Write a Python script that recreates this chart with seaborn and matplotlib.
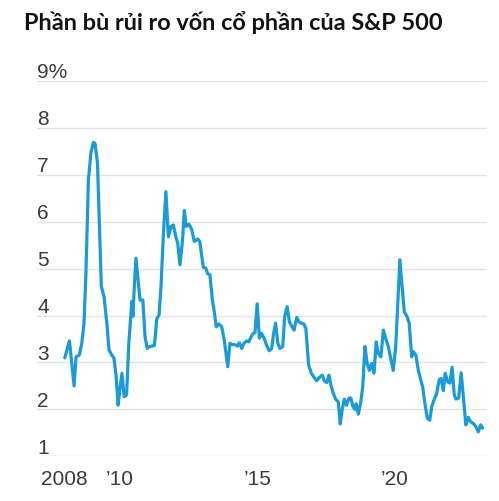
import matplotlib
matplotlib.use("Agg")
import matplotlib.pyplot as plt
import matplotlib.transforms as mtransforms
from matplotlib import font_manager
import seaborn as sns

title = "Phần bù rủi ro vốn cổ phần của S&P 500"

years = [
    2008.00, 2008.17, 2008.34, 2008.41, 2008.53, 2008.62, 2008.70, 2008.77, 2008.86, 2008.95,
    2009.04, 2009.10, 2009.19, 2009.26, 2009.33, 2009.43, 2009.53, 2009.61, 2009.71, 2009.79,
    2009.87, 2009.94, 2010.01, 2010.08, 2010.16, 2010.25, 2010.33, 2010.40, 2010.44, 2010.48,
    2010.53, 2010.59, 2010.68, 2010.74, 2010.84, 2010.92, 2011.00, 2011.08, 2011.26, 2011.35,
    2011.43, 2011.50, 2011.59, 2011.68, 2011.77, 2011.87, 2011.95, 2012.04, 2012.11, 2012.19,
    2012.28, 2012.35, 2012.42, 2012.52, 2012.62, 2012.71, 2012.84, 2012.91, 2012.98, 2013.04,
    2013.13, 2013.20, 2013.28, 2013.37, 2013.44, 2013.51, 2013.61, 2013.71, 2013.80, 2013.93,
    2014.01, 2014.09, 2014.19, 2014.28, 2014.35, 2014.44, 2014.52, 2014.62, 2014.69, 2014.76,
    2014.84, 2014.92, 2015.00, 2015.08, 2015.16, 2015.25, 2015.35, 2015.44, 2015.53, 2015.59,
    2015.67, 2015.75, 2015.83, 2015.93, 2016.00, 2016.09, 2016.17, 2016.27, 2016.34, 2016.44,
    2016.51, 2016.60, 2016.70, 2016.77, 2016.82, 2016.87, 2016.97, 2017.07, 2017.16, 2017.26,
    2017.37, 2017.44, 2017.53, 2017.61, 2017.68, 2017.77, 2017.85, 2017.95, 2018.02, 2018.09,
    2018.17, 2018.25, 2018.34, 2018.41, 2018.48, 2018.56, 2018.60, 2018.68, 2018.76, 2018.84,
    2018.92, 2019.00, 2019.08, 2019.16, 2019.25, 2019.33, 2019.40, 2019.50, 2019.59, 2019.67,
    2019.77, 2019.87, 2019.95, 2020.04, 2020.11, 2020.19, 2020.28, 2020.35, 2020.45, 2020.53,
    2020.62, 2020.68, 2020.77, 2020.86, 2020.95, 2021.02, 2021.10, 2021.19, 2021.28, 2021.35,
    2021.43, 2021.53, 2021.62, 2021.69, 2021.77, 2021.84, 2021.93, 2022.01, 2022.09, 2022.17,
    2022.23, 2022.33, 2022.42, 2022.49, 2022.59, 2022.68, 2022.76, 2022.86, 2022.96, 2023.04,
    2023.13, 2023.20,
]
premium = [
    3.10, 3.46, 2.50, 3.12, 3.16, 3.41, 3.84, 4.90, 6.89, 7.46,
    7.69, 7.67, 7.25, 5.97, 4.62, 4.40, 3.84, 3.27, 3.16, 3.09,
    2.70, 2.09, 2.45, 2.77, 2.27, 2.31, 3.41, 3.98, 4.30, 3.98,
    4.62, 5.22, 4.69, 4.33, 4.33, 3.55, 3.30, 3.34, 3.36, 3.94,
    4.01, 4.62, 5.75, 6.64, 5.68, 5.90, 5.93, 5.68, 5.54, 5.08,
    5.58, 6.24, 5.90, 5.95, 5.83, 5.58, 5.63, 5.58, 5.29, 5.03,
    5.01, 4.89, 4.87, 4.33, 4.08, 3.76, 3.82, 3.76, 3.48, 2.91,
    3.41, 3.38, 3.38, 3.35, 3.42, 3.30, 3.41, 3.46, 3.44, 3.52,
    3.61, 3.64, 4.25, 3.52, 3.62, 3.52, 3.35, 3.25, 3.30, 3.59,
    3.84, 3.41, 3.30, 3.34, 3.98, 4.19, 3.87, 3.76, 3.69, 3.96,
    3.87, 3.84, 3.82, 3.73, 3.34, 2.95, 2.77, 2.68, 2.61, 2.68,
    2.73, 2.61, 2.57, 2.73, 2.52, 2.34, 2.22, 2.16, 1.69, 1.99,
    2.22, 2.09, 2.24, 2.24, 2.06, 2.00, 2.12, 1.90, 2.13, 2.48,
    3.34, 2.98, 2.83, 2.98, 2.77, 3.44, 3.20, 3.12, 3.69, 3.52,
    3.34, 3.05, 2.83, 3.34, 4.19, 5.19, 4.55, 4.08, 3.98, 3.84,
    3.12, 3.23, 3.16, 2.84, 2.63, 2.48, 2.13, 1.81, 1.77, 2.06,
    2.20, 2.34, 2.63, 2.66, 2.40, 2.77, 2.59, 2.56, 2.90, 2.31,
    2.22, 2.24, 2.78, 2.34, 1.67, 1.83, 1.74, 1.70, 1.63, 1.52,
    1.67, 1.60,
]
y_ticks = [1, 2, 3, 4, 5, 6, 7, 8, 9]
y_labels = ["1", "2", "3", "4", "5", "6", "7", "8", "9%"]
x_major = [2008, 2010, 2015, 2020]
x_labels = ["2008", "\u201910", "\u201915", "\u201920"]
x_minor = list(range(2008, 2024))

sns.set_style("white")
installed = {f.name for f in font_manager.fontManager.ttflist}
narrow = "Liberation Sans Narrow" if "Liberation Sans Narrow" in installed else "Liberation Sans"
plt.rcParams["font.family"] = [narrow, "DejaVu Sans"]

text_color = "#3a3a3a"
line_color = "#1a9ad6"
grid_color = "#e3e3e3"

fig = plt.figure(figsize=(4.99, 5.01), dpi=100)
ax = fig.add_axes([37 / 499, 1 - 456.3 / 501, 450 / 499, (456.3 - 81) / 501])

sns.lineplot(x=years, y=premium, ax=ax, color=line_color, linewidth=2.3, sort=False)

ax.set_xlim(2006.99, 2023.36)
ax.set_ylim(1, 9)
for side in ["top", "right", "left", "bottom"]:
    ax.spines[side].set_visible(False)

for v in y_ticks:
    ax.axhline(v, color=grid_color, linewidth=1.0, zorder=0)

ax.set_yticks([])
label_tf = mtransforms.offset_copy(ax.get_yaxis_transform(), fig=fig, x=0, y=2.5, units="dots")
for v, lab in zip(y_ticks, y_labels):
    ax.text(0, v, lab, transform=label_tf, ha="left", va="baseline",
            fontsize=15, color=text_color)

ax.set_xticks(x_major)
ax.set_xticklabels(x_labels)
ax.set_xticks(x_minor, minor=True)
ax.tick_params(axis="x", which="major", length=5, width=1.0, color=text_color,
               labelsize=15, labelcolor=text_color, pad=5, direction="out")
ax.tick_params(axis="x", which="minor", length=2.5, width=1.0, color=text_color,
               direction="out")
# 2008 only gets a short tick
ax.xaxis.get_major_ticks()[0].tick1line.set_markersize(2.5)

fig.text(24 / 499, 1 - 30.5 / 501, title, fontsize=16.9, fontweight="bold",
         family=["Lato", "DejaVu Sans"], color="#111111", va="baseline", ha="left")

fig.savefig("out.png", dpi=100)
